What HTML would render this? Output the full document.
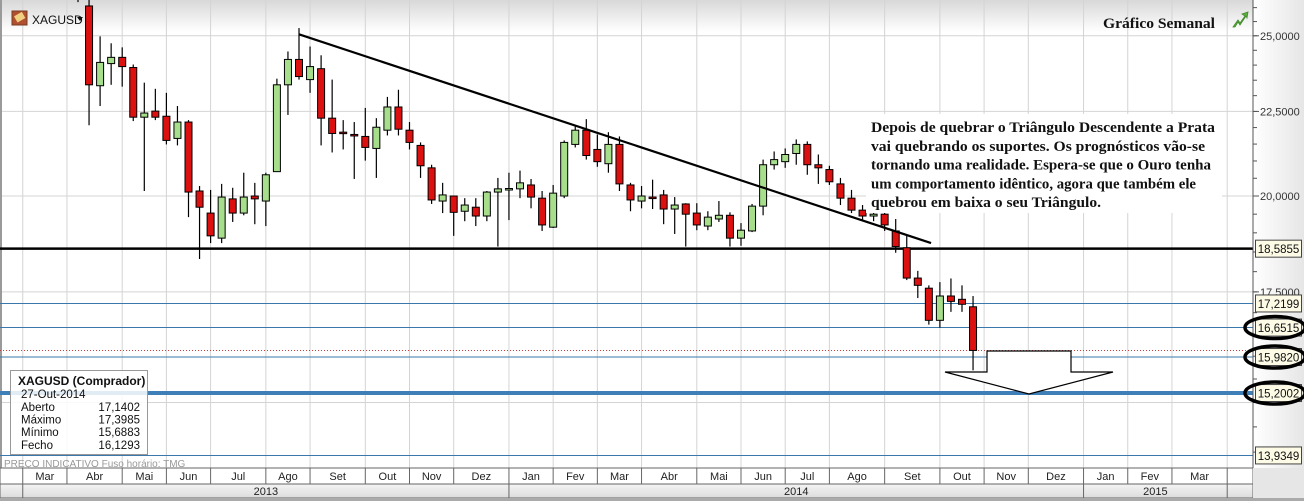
<!DOCTYPE html>
<html><head><meta charset="utf-8"><style>
body{margin:0;background:#fff;}
svg{display:block;font-family:"Liberation Sans",sans-serif;}
</style></head><body>
<svg id="chart" width="1304" height="501" viewBox="0 0 1304 501">
<defs>
<linearGradient id="hdr" x1="0" y1="0" x2="0" y2="1"><stop offset="0" stop-color="#d8d8d8"/><stop offset="1" stop-color="#ffffff"/></linearGradient>
<linearGradient id="axg" x1="0" y1="0" x2="1" y2="0"><stop offset="0" stop-color="#ffffff"/><stop offset="1" stop-color="#e6e6e6"/></linearGradient>
<linearGradient id="yr" x1="0" y1="0" x2="0" y2="1"><stop offset="0" stop-color="#f4f4f4"/><stop offset="1" stop-color="#dcdcdc"/></linearGradient>
</defs>
<rect x="0" y="0" width="1304" height="501" fill="#fff"/>
<rect x="0" y="0" width="1253" height="32" fill="url(#hdr)"/>
<rect x="1253" y="0" width="51" height="468" fill="url(#axg)"/>
<g id="grid"></g>
<g id="levels"></g>
<g id="candles"></g>
<g id="overlay"></g>
<g id="axes"></g>
</svg>
<script>
const opens=[26.5,26.06,23.32,24.05,24.26,23.92,22.32,22.51,22.35,21.67,22.17,20.14,19.53,18.86,19.92,19.53,20.00,19.86,20.69,23.35,24.19,23.52,23.88,22.29,21.86,21.79,21.73,21.37,21.92,22.64,21.92,21.46,20.80,19.86,20.00,19.58,19.69,19.45,20.11,20.20,20.20,20.31,19.94,19.15,20.00,21.49,21.92,21.34,20.92,21.49,20.31,19.86,19.97,20.03,19.64,19.78,19.53,19.18,19.37,19.47,18.86,19.05,19.72,20.89,20.98,21.22,21.49,20.89,20.75,20.34,19.94,19.61,19.45,19.50,19.05,18.61,17.84,17.59,16.82,17.40,17.32,17.1402];
const highs=[26.6,26.43,24.98,24.74,24.60,24.02,23.42,23.22,23.09,22.67,22.23,20.28,20.17,20.34,20.23,20.66,20.37,20.66,23.55,24.46,25.27,24.63,24.33,23.52,22.23,22.17,22.61,22.29,22.96,23.19,22.17,21.55,20.89,20.37,20.00,19.94,19.94,20.14,20.51,20.66,20.72,20.48,20.14,20.31,21.61,22.07,22.26,21.79,21.86,21.73,20.37,20.28,20.46,20.17,19.97,19.80,19.80,19.58,19.86,19.55,19.26,19.78,21.04,21.28,21.37,21.64,21.58,21.19,20.86,20.51,20.17,19.75,19.61,19.55,19.37,18.92,18.02,17.66,17.74,17.83,17.66,17.3985];
const lows=[26.2,22.07,22.67,23.35,23.29,22.20,20.14,22.23,21.49,21.46,19.42,18.32,18.73,18.73,19.29,19.47,19.23,19.18,20.69,22.39,23.52,23.09,21.46,21.25,21.34,20.48,21.01,20.51,21.76,21.76,21.34,20.51,19.78,19.53,18.92,19.31,19.18,19.31,18.64,19.34,19.94,19.66,19.05,19.13,19.94,21.40,21.04,20.83,20.66,20.14,19.58,19.66,19.64,19.23,18.97,18.64,19.07,19.07,19.29,18.64,18.66,19.02,19.47,20.75,20.80,20.89,20.60,20.34,20.31,19.75,19.53,19.34,19.31,19.05,18.48,17.79,17.35,16.72,16.65,17.02,17.02,15.6883];
const closes=[26.3,23.35,24.09,24.26,23.95,22.32,22.45,22.32,21.61,22.17,20.11,19.69,18.92,19.97,19.53,19.97,19.92,20.60,23.35,24.19,23.62,23.95,22.29,21.82,21.84,21.77,21.40,22.01,22.64,21.95,21.55,20.86,19.89,20.03,19.55,19.75,19.45,20.11,20.20,20.21,20.37,19.97,19.21,20.08,21.55,21.92,21.16,20.98,21.49,20.34,19.89,20.00,19.96,19.64,19.75,19.50,19.21,19.42,19.47,18.86,19.07,19.72,20.89,21.04,21.19,21.49,20.89,20.80,20.40,19.94,19.61,19.45,19.50,19.21,18.64,17.84,17.66,16.82,17.40,17.27,17.20,16.1293];
const yTicks=[25,22.5,20,17.5];
const yTickLabels=["25,0000","22,5000","20,0000","17,5000"];
const levelValues=[17.2199,16.6515,15.9820,13.9349];
const levelLabels=["17,2199","16,6515","15,9820","13,9349"];
const supportValue=18.5855, supportLabel="18,5855";
const targetValue=15.2002, targetLabel="15,2002";
const circledLabels=["16,6515","15,9820","15,2002"];
const monthBounds=[-5,-1,4,8,12,17,21,26,30,34,39,43,47,51,56,60,64,68,73,78,82,86,91,95,99,104];
const monthNames=["Mar","Abr","Mai","Jun","Jul","Ago","Set","Out","Nov","Dez","Jan","Fev","Mar","Abr","Mai","Jun","Jul","Ago","Set","Out","Nov","Dez","Jan","Fev","Mar"];
const yearBounds=[-5,39,91,104];
const yearNames=["2013","2014","2015"];
const trendIdx=[20,77.2], trendVal=[25.05,18.73];

const NS="http://www.w3.org/2000/svg";
const PR=1253;
function X(i){return 78+i*11.05;}
function Y(v){return 196-718*Math.log(v/20);}
function mk(tag,attrs,parent,txt){const e=document.createElementNS(NS,tag);for(const k in attrs)e.setAttribute(k,attrs[k]);if(txt!==undefined)e.textContent=txt;parent.appendChild(e);return e;}
const grid=document.getElementById('grid'),lv=document.getElementById('levels'),cg=document.getElementById('candles'),ov=document.getElementById('overlay'),ax=document.getElementById('axes');

yTicks.concat([15]).forEach(v=>{const l=mk('line',{x1:0,x2:PR,y1:Y(v),y2:Y(v),stroke:'#d4d4d4','stroke-width':1},grid);

});
monthBounds.forEach(b=>{const l=mk('line',{x1:X(b),x2:X(b),y1:0,y2:468,stroke:'#d4d4d4','stroke-width':1},grid);

});
mk('line',{x1:1,x2:1,y1:0,y2:501,stroke:'#9a9a9a','stroke-width':2},grid);

levelValues.forEach(v=>{const l=mk('line',{x1:0,x2:PR,y1:Y(v),y2:Y(v),stroke:'#3a78ac','stroke-width':1},lv);

});
let cur=mk('line',{x1:0,x2:PR,y1:Y(closes[closes.length-1]),y2:Y(closes[closes.length-1]),stroke:'#c04040','stroke-width':1,'stroke-dasharray':'1,2'},lv);


let tl=mk('line',{x1:0,x2:PR,y1:Y(targetValue),y2:Y(targetValue),stroke:'#3f7fb8','stroke-width':4},lv);


let sl=mk('line',{x1:0,x2:PR,y1:Y(supportValue),y2:Y(supportValue),stroke:'#000','stroke-width':2.5},lv);



for(let i=0;i<opens.length;i++){
 const g=mk('g',{},cg);
 
 
 const x=X(i),o=opens[i],c=closes[i];
 mk('line',{x1:x,x2:x,y1:Y(highs[i]),y2:Y(lows[i]),stroke:'#000','stroke-width':1.2},g);
 const top=Y(Math.max(o,c)),bot=Y(Math.min(o,c));
 const h=Math.max(bot-top,1.5);
 mk('rect',{x:x-3.5,y:top,width:7,height:h,fill:c>=o?'#a6de8c':'#dd1010',stroke:'#000','stroke-width':1},g);
}

let tr=mk('line',{x1:X(trendIdx[0]),y1:Y(trendVal[0]),x2:X(trendIdx[1]),y2:Y(trendVal[1]),stroke:'#000','stroke-width':2.2},ov);



let ar=mk('polygon',{points:'987,351 1071,351 1071,372 1113,372 1029,394 945,372 987,372',fill:'#fff',stroke:'#000','stroke-width':1.2},ov);



let tb=mk('rect',{x:866,y:114,width:356,height:99,fill:'#fff'},ov);


const lines=["Depois de quebrar o Triângulo Descendente a Prata","vai quebrando os suportes. Os prognósticos vão-se","tornando uma realidade. Espera-se que o Ouro tenha","um comportamento idêntico, agora que também ele","quebrou em baixa o seu Triângulo."];
const lens=[344,334,340,325,230];
lines.forEach((t,k)=>{const e=mk('text',{x:871,y:132+k*18.8,'font-family':'"Liberation Serif",serif','font-weight':'bold','font-size':15,fill:'#111',textLength:lens[k],lengthAdjust:'spacingAndGlyphs'},ov,t);

});

let title=mk('text',{x:1103,y:28,'font-family':'"Liberation Serif",serif','font-weight':'bold','font-size':15,fill:'#111',textLength:112,lengthAdjust:'spacingAndGlyphs'},ov,'Gráfico Semanal');


let ic=mk('path',{d:'M1233,27 L1238,20 L1240,23 L1245,16 L1242,14 L1248,12 L1247,18 L1246,16 L1240,25 L1238,22 L1235,27Z',fill:'#5cb040',stroke:'#3f8a2a','stroke-width':0.8},ov);


let sym=mk('g',{},ov);


mk('rect',{x:12,y:11,width:15,height:14,fill:'#b05030',stroke:'#7a3a20'},sym);
mk('rect',{x:15,y:14,width:9,height:7,fill:'#f0d080',transform:'rotate(-30 19 17)'},sym);
mk('text',{x:32,y:24,'font-size':12,fill:'#111'},sym,'XAGUSD');
mk('path',{d:'M77,17 L83,17 L80,21Z',fill:'#111'},sym);

let ib=mk('g',{},ov);


mk('rect',{x:10.5,y:370.5,width:137,height:84,fill:'rgba(255,255,255,0.85)',stroke:'#999'},ib);
mk('text',{x:18,y:385,'font-size':12,'font-weight':'bold',fill:'#111'},ib,'XAGUSD (Comprador)');
mk('text',{x:21,y:398,'font-size':11.5,fill:'#111'},ib,'27-Out-2014');
const il=["Aberto","Máximo","Mínimo","Fecho"],iv=["17,1402","17,3985","15,6883","16,1293"];
il.forEach((t,k)=>{mk('text',{x:21,y:411+k*12.6,'font-size':11.5,fill:'#111'},ib,t);mk('text',{x:140,y:411+k*12.6,'font-size':11.5,fill:'#111','text-anchor':'end'},ib,iv[k]);});
let pi=mk('text',{x:4,y:467,'font-size':10,fill:'#999'},ov,'PREÇO INDICATIVO   Fuso horário: TMG');



mk('line',{x1:PR,x2:PR,y1:0,y2:501,stroke:'#555','stroke-width':1},ax);
for(let v=14;v<=26;v+=0.5){mk('line',{x1:PR,x2:PR+4,y1:Y(v),y2:Y(v),stroke:'#555'},ax);}
yTicks.forEach((v,k)=>{mk('line',{x1:PR,x2:PR+6,y1:Y(v),y2:Y(v),stroke:'#555'},ax);
const t=mk('text',{x:1260,y:Y(v)+4,'font-size':11,fill:'#333'},ax,yTickLabels[k]);

});
const allBox=[[supportValue,supportLabel]].concat(levelValues.map((v,k)=>[v,levelLabels[k]])).concat([[targetValue,targetLabel]]);
allBox.forEach(([v,l])=>{const g=mk('g',{},ax);


const y=Y(v);
mk('rect',{x:1255.5,y:y-8.5,width:46,height:17,fill:'#fdfbe6',stroke:'#444'},g);
mk('text',{x:1278.5,y:y+4.5,'font-size':11.5,fill:'#111','text-anchor':'middle'},g,l);
if(circledLabels.includes(l)){mk('ellipse',{cx:1275,cy:y,rx:30,ry:11,fill:'none',stroke:'#000','stroke-width':3.5},g);}
});

let mr=mk('rect',{x:0,y:468,width:PR,height:16,fill:'#fff',stroke:'#666'},ax);


let yrr=mk('rect',{x:0,y:484,width:PR,height:14,fill:'url(#yr)',stroke:'#666'},ax);


mk('rect',{x:0,y:498,width:1304,height:3,fill:'#aaa'},ax);
mk('rect',{x:PR,y:468,width:51,height:30,fill:'#e6e6e6'},ax);
monthBounds.forEach(b=>mk('line',{x1:X(b),x2:X(b),y1:468,y2:484,stroke:'#666'},ax));
monthNames.forEach((n,k)=>{const t=mk('text',{x:(X(monthBounds[k])+X(monthBounds[k+1]))/2,y:480,'font-size':11,fill:'#222','text-anchor':'middle'},ax,n);

});
yearBounds.forEach(b=>mk('line',{x1:X(b),x2:X(b),y1:484,y2:498,stroke:'#666'},ax));
yearNames.forEach((n,k)=>{const t=mk('text',{x:(X(yearBounds[k])+X(yearBounds[k+1]))/2,y:495,'font-size':11,fill:'#222','text-anchor':'middle'},ax,n);

});
</script>
</body></html>
